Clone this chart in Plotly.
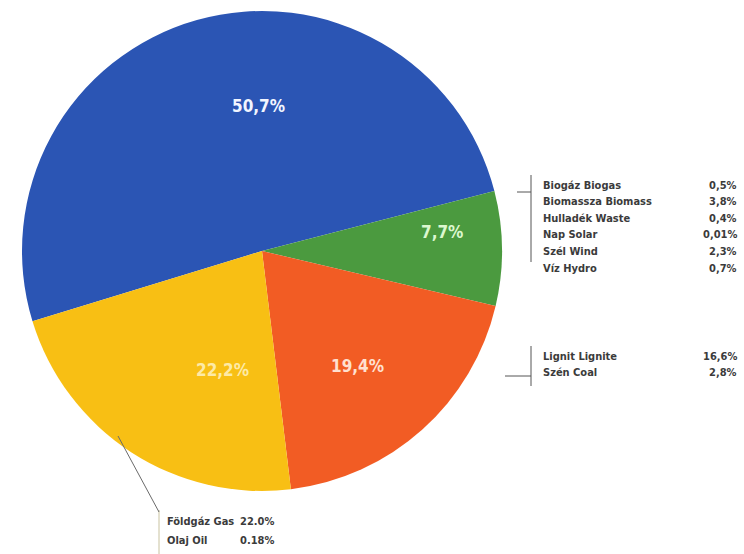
import plotly.graph_objects as go

# Main split of the electricity mix (percent of total)
groups = ["Atomenergia Nuclear", "Megújuló Renewables", "Szén Coal", "Földgáz és olaj Gas and oil"]
shares = [50.7, 7.7, 19.4, 22.2]
slice_colors = ["#2b55b4", "#4b9a3f", "#f25c24", "#f8bf14"]
share_text_colors = ["#f2f5ff", "#dcf7cf", "#ffe0d0", "#fdeaa6"]

# Breakdown of each group
renew_labels = ["Biogáz Biogas", "Biomassza Biomass", "Hulladék Waste", "Nap Solar", "Szél Wind", "Víz Hydro"]
renew_values = [0.5, 3.8, 0.4, 0.01, 2.3, 0.7]
coal_labels = ["Lignit Lignite", "Szén Coal"]
coal_values = [16.6, 2.8]
gas_labels = ["Földgáz Gas", "Olaj Oil"]
gas_values = [22.0, 0.18]

W, H = 744, 554
FONT = "Liberation Sans Narrow, DejaVu Sans Condensed, Arial Narrow, sans-serif"
TEXT = "#3b3b3b"


def px(x):
    return x / W


def py(y):
    return 1 - y / H


def fmt(v, sep=","):
    s = f"{v:.2f}" if v < 0.2 else f"{v:.1f}"
    return s.replace(".", sep) + "%"


# pie geometry in pixels
cx, cy, r = 262, 251, 240

fig = go.Figure(go.Pie(
    labels=groups,
    values=shares,
    sort=False,
    direction="clockwise",
    rotation=253,
    marker=dict(colors=slice_colors, line=dict(width=0)),
    textinfo="none",
    hoverinfo="label+percent",
    showlegend=False,
    domain=dict(x=[px(cx - r), px(cx + r)], y=[py(cy + r), py(cy - r)]),
))

annotations = []
shapes = []

# share labels on the slices
share_pos = [(258, 106), (442, 232), (357, 366), (222, 370)]
for v, (x, y), c in zip(shares, share_pos, share_text_colors):
    annotations.append(dict(
        x=px(x), y=py(y), xref="paper", yref="paper", showarrow=False,
        text=f"<b>{fmt(v)}</b>", font=dict(family=FONT, size=17, color=c),
        xanchor="center", yanchor="middle",
    ))


def breakdown(labels, values, x_label, x_value, y0, step, sep=","):
    for i, (lab, val) in enumerate(zip(labels, values)):
        y = y0 + i * step
        annotations.append(dict(
            x=px(x_label), y=py(y), xref="paper", yref="paper", showarrow=False,
            text=f"<b>{lab}</b>", font=dict(family=FONT, size=11, color=TEXT),
            xanchor="left", yanchor="middle",
        ))
        annotations.append(dict(
            x=px(x_value), y=py(y), xref="paper", yref="paper", showarrow=False,
            text=f"<b>{fmt(val, sep)}</b>", font=dict(family=FONT, size=11, color=TEXT),
            xanchor="right", yanchor="middle",
        ))


def seg(x0, y0, x1, y1, color="#555555", width=1):
    shapes.append(dict(type="line", xref="paper", yref="paper",
                       x0=px(x0), y0=py(y0), x1=px(x1), y1=py(y1),
                       line=dict(color=color, width=width)))


# renewables bracket
breakdown(renew_labels, renew_values, 541, 739, 185, 16.6)
seg(531, 175, 531, 262)
seg(517, 192, 531, 192)

# coal bracket
breakdown(coal_labels, coal_values, 541, 739, 356, 16.6)
seg(531, 346, 531, 386)
seg(505, 376, 531, 376)

# gas and oil bracket
breakdown(gas_labels, gas_values, 165, 276, 521, 19, sep=".")
seg(159, 510, 159, 554, color="#c9c3a0")
seg(118, 436, 159, 512, color="#6a6a6a")

fig.update_layout(
    width=W, height=H,
    margin=dict(l=0, r=0, t=0, b=0),
    paper_bgcolor="white", plot_bgcolor="white",
    annotations=annotations, shapes=shapes,
)

fig.write_html("out.html")
